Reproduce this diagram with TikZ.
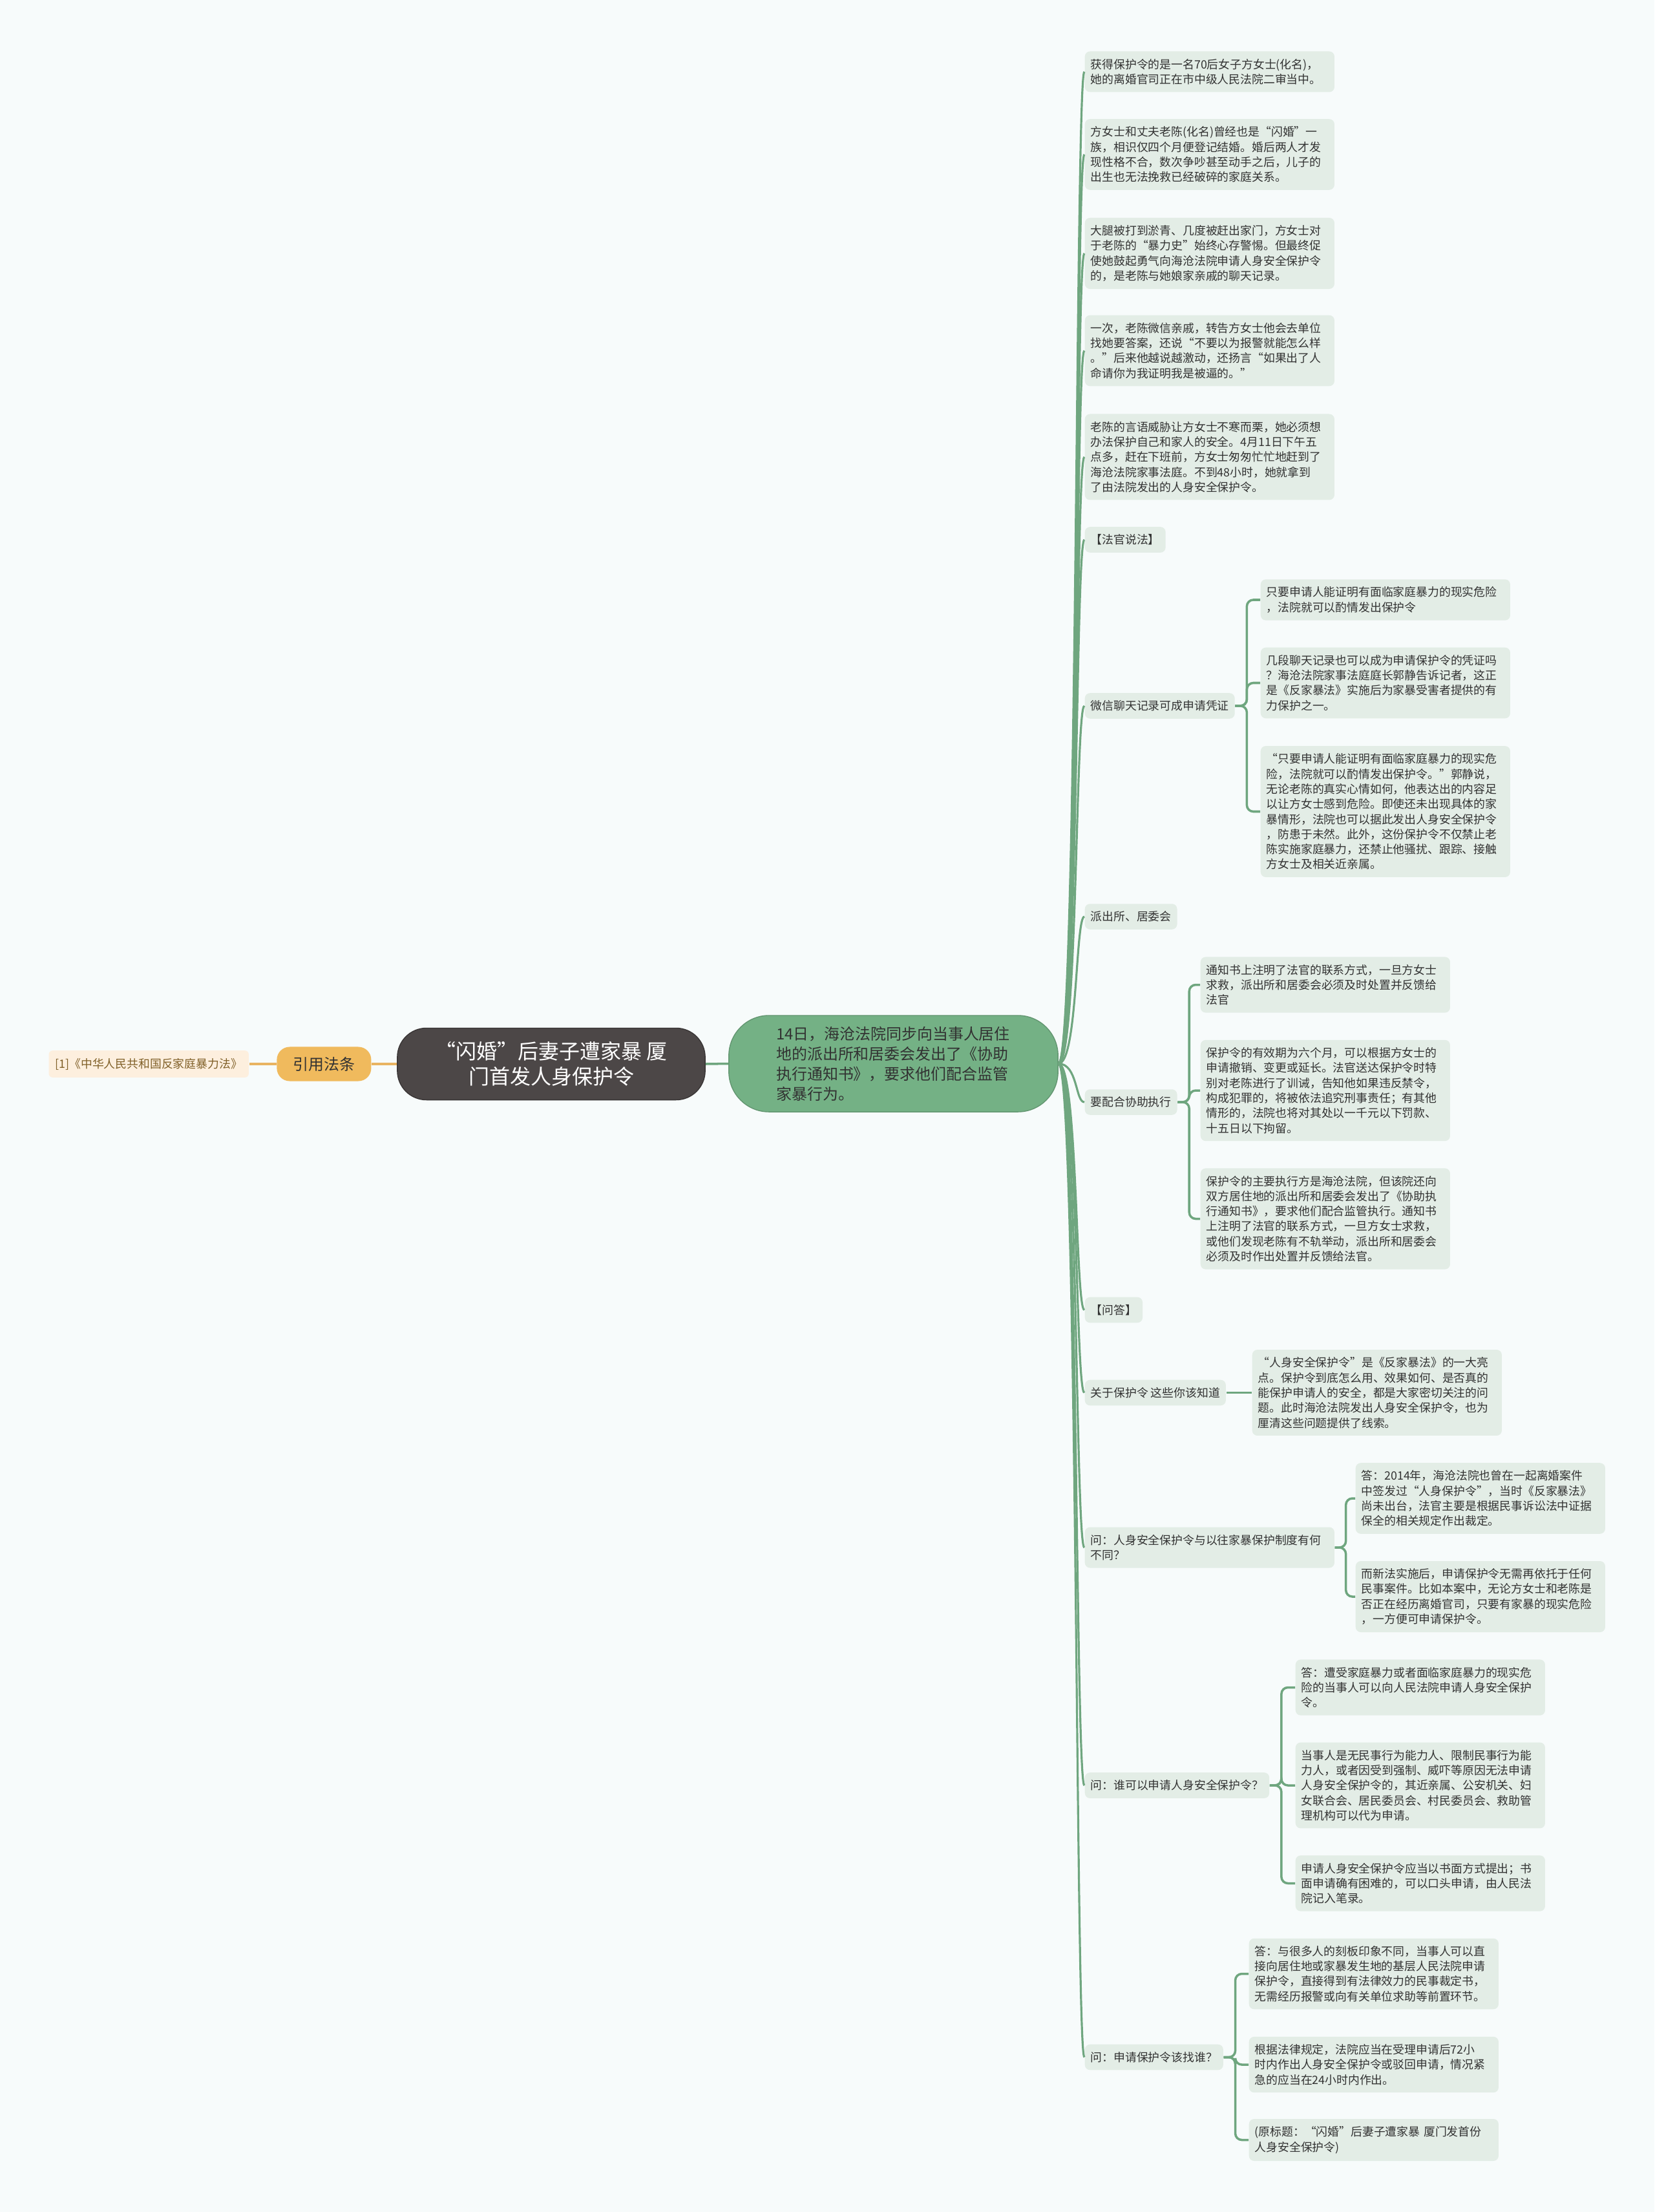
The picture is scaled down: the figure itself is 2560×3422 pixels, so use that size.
\documentclass[tikz,border=0pt]{standalone}
\usepackage{fontspec}
\usepackage{xcolor}
\usepackage{tikz}
\usetikzlibrary{positioning}
\newfontfamily\cjk{Noto Sans CJK SC}
\definecolor{paper}{RGB}{247,251,251}
\definecolor{leafbg}{RGB}{227,237,230}
\definecolor{ink}{RGB}{50,50,50}
\definecolor{branch}{RGB}{111,166,127}
\definecolor{hubfill}{RGB}{116,177,133}
\definecolor{rootfill}{RGB}{76,71,71}
\definecolor{citefill}{RGB}{240,186,93}
\definecolor{citeline}{RGB}{233,180,98}
\definecolor{reffill}{RGB}{253,239,222}
\definecolor{reftext}{RGB}{128,96,40}
\tikzset{
  note/.style={fill=leafbg,rounded corners=0.08cm,anchor=west,inner xsep=0.09cm,inner ysep=0.115cm,
               text=ink,align=left,font=\cjk\fontsize{5.07pt}{6.63pt}\selectfont},
  leaf/.style={note,text width=3.68cm},
  root/.style={fill=rootfill,draw=rootfill!75!black,rounded corners=0.45cm,minimum width=4.76cm,
               minimum height=1.11cm,text=white,align=center,font=\cjk\fontsize{9.1pt}{10.9pt}\selectfont},
  hub/.style={fill=hubfill,draw=hubfill!85!black,rounded corners=0.62cm,minimum width=5.09cm,
              minimum height=1.49cm,text width=3.62cm,align=left,text=ink,
              font=\cjk\fontsize{6.8pt}{8.8pt}\selectfont},
  cite/.style={fill=citefill,rounded corners=0.2cm,minimum width=1.46cm,minimum height=0.53cm,
               text=ink,font=\cjk\fontsize{6.8pt}{8.8pt}\selectfont},
  lawref/.style={fill=reffill,rounded corners=0.06cm,minimum height=0.39cm,inner xsep=0.1cm,
                 text=reftext,font=\cjk\fontsize{5.07pt}{6.63pt}\selectfont},
  link/.style={draw=branch,line width=1pt,rounded corners=0.1cm},
  trunk/.style={draw=branch,line width=0.9pt},
  citelink/.style={draw=citeline,line width=1pt}
}
\begin{document}
\begin{tikzpicture}[x=0.01cm,y=-0.01cm]
  \fill[paper] (0,0) rectangle (2560,3422);
  \useasboundingbox (0,0) rectangle (2560,3422);

  \node[root] (root) at (853,1646) {“闪婚”后妻子遭家暴 厦\\门首发人身保护令};
  \node[cite,left=0.39cm of root] (cite) {引用法条};
  \node[lawref,left=0.42cm of cite] (law) {[1]《中华人民共和国反家庭暴力法》};
  \node[hub] (hub) at (1382.5,1645.5)
    {14日，海沧法院同步向当事人居住\\地的派出所和居委会发出了《协助\\执行通知书》，要求他们配合监管\\家暴行为。};
  \draw[citelink] (root.west) -- (cite.east);
  \draw[citelink] (cite.west) -- (law.east);
  \draw[link] (root.east) -- (hub.west);

  \node[leaf] (t1) at (1678,111)
    {获得保护令的是一名70后女子方女士(化名)，\\她的离婚官司正在市中级人民法院二审当中。};
  \node[leaf] (t2) at (1678,239)
    {方女士和丈夫老陈(化名)曾经也是“闪婚”一\\族，相识仅四个月便登记结婚。婚后两人才发\\现性格不合，数次争吵甚至动手之后，儿子的\\出生也无法挽救已经破碎的家庭关系。};
  \node[leaf] (t3) at (1678,392)
    {大腿被打到淤青、几度被赶出家门，方女士对\\于老陈的“暴力史”始终心存警惕。但最终促\\使她鼓起勇气向海沧法院申请人身安全保护令\\的，是老陈与她娘家亲戚的聊天记录。};
  \node[leaf] (t4) at (1678,542.5)
    {一次，老陈微信亲戚，转告方女士他会去单位\\找她要答案，还说“不要以为报警就能怎么样\\。”后来他越说越激动，还扬言“如果出了人\\命请你为我证明我是被逼的。”};
  \node[leaf] (t5) at (1678,707)
    {老陈的言语威胁让方女士不寒而栗，她必须想\\办法保护自己和家人的安全。4月11日下午五\\点多，赶在下班前，方女士匆匆忙忙地赶到了\\海沧法院家事法庭。不到48小时，她就拿到\\了由法院发出的人身安全保护令。};
  \node[note] (t6) at (1678,835) {【法官说法】};
  \node[note] (t7) at (1678,1092) {微信聊天记录可成申请凭证};
  \node[leaf] (c1) at (1950,928)
    {只要申请人能证明有面临家庭暴力的现实危险\\，法院就可以酌情发出保护令};
  \node[leaf] (c2) at (1950,1056.5)
    {几段聊天记录也可以成为申请保护令的凭证吗\\？海沧法院家事法庭庭长郭静告诉记者，这正\\是《反家暴法》实施后为家暴受害者提供的有\\力保护之一。};
  \node[leaf] (c3) at (1950,1255.5)
    {“只要申请人能证明有面临家庭暴力的现实危\\险，法院就可以酌情发出保护令。”郭静说，\\无论老陈的真实心情如何，他表达出的内容足\\以让方女士感到危险。即使还未出现具体的家\\暴情形，法院也可以据此发出人身安全保护令\\，防患于未然。此外，这份保护令不仅禁止老\\陈实施家庭暴力，还禁止他骚扰、跟踪、接触\\方女士及相关近亲属。};
  \node[note] (t8) at (1678,1418) {派出所、居委会};
  \node[note] (t9) at (1678,1705) {要配合协助执行};
  \node[leaf] (d1) at (1857,1523.5)
    {通知书上注明了法官的联系方式，一旦方女士\\求救，派出所和居委会必须及时处置并反馈给\\法官};
  \node[leaf] (d2) at (1857,1687)
    {保护令的有效期为六个月，可以根据方女士的\\申请撤销、变更或延长。法官送达保护令时特\\别对老陈进行了训诫，告知他如果违反禁令，\\构成犯罪的，将被依法追究刑事责任；有其他\\情形的，法院也将对其处以一千元以下罚款、\\十五日以下拘留。};
  \node[leaf] (d3) at (1857,1885.5)
    {保护令的主要执行方是海沧法院，但该院还向\\双方居住地的派出所和居委会发出了《协助执\\行通知书》，要求他们配合监管执行。通知书\\上注明了法官的联系方式，一旦方女士求救，\\或他们发现老陈有不轨举动，派出所和居委会\\必须及时作出处置并反馈给法官。};
  \node[note] (t10) at (1678,2026.5) {【问答】};
  \node[note] (t11) at (1678,2154.5) {关于保护令 这些你该知道};
  \node[leaf] (e1) at (1937,2154.5)
    {“人身安全保护令”是《反家暴法》的一大亮\\点。保护令到底怎么用、效果如何、是否真的\\能保护申请人的安全，都是大家密切关注的问\\题。此时海沧法院发出人身安全保护令，也为\\厘清这些问题提供了线索。};
  \node[leaf] (t12) at (1678,2394)
    {问：人身安全保护令与以往家暴保护制度有何\\不同？};
  \node[leaf] (f1) at (2097,2318)
    {答：2014年，海沧法院也曾在一起离婚案件\\中签发过“人身保护令”，当时《反家暴法》\\尚未出台，法官主要是根据民事诉讼法中证据\\保全的相关规定作出裁定。};
  \node[leaf] (f2) at (2097,2470)
    {而新法实施后，申请保护令无需再依托于任何\\民事案件。比如本案中，无论方女士和老陈是\\否正在经历离婚官司，只要有家暴的现实危险\\，一方便可申请保护令。};
  \node[note] (t13) at (1678,2762) {问：谁可以申请人身安全保护令？};
  \node[leaf] (g1) at (2004,2610.5)
    {答：遭受家庭暴力或者面临家庭暴力的现实危\\险的当事人可以向人民法院申请人身安全保护\\令。};
  \node[leaf] (g2) at (2004,2762)
    {当事人是无民事行为能力人、限制民事行为能\\力人，或者因受到强制、威吓等原因无法申请\\人身安全保护令的，其近亲属、公安机关、妇\\女联合会、居民委员会、村民委员会、救助管\\理机构可以代为申请。};
  \node[leaf] (g3) at (2004,2913.5)
    {申请人身安全保护令应当以书面方式提出；书\\面申请确有困难的，可以口头申请，由人民法\\院记入笔录。};
  \node[note] (t14) at (1678,3182.5) {问：申请保护令该找谁？};
  \node[leaf] (h1) at (1932,3053.5)
    {答：与很多人的刻板印象不同，当事人可以直\\接向居住地或家暴发生地的基层人民法院申请\\保护令，直接得到有法律效力的民事裁定书，\\无需经历报警或向有关单位求助等前置环节。};
  \node[leaf] (h2) at (1932,3194)
    {根据法律规定，法院应当在受理申请后72小\\时内作出人身安全保护令或驳回申请，情况紧\\急的应当在24小时内作出。};
  \node[leaf] (h3) at (1932,3310.5)
    {(原标题：“闪婚”后妻子遭家暴 厦门发首份\\人身安全保护令)};

  \foreach \i in {1,...,14}
    \draw[trunk] (hub.east) .. controls +(30,0) and +(-14,0) .. (t\i.west);
  \foreach \c in {c1,c2,c3}
    \draw[link] (t7.east) -- ++(18,0) |- (\c.west);
  \foreach \c in {d1,d2,d3}
    \draw[link] (t9.east) -- ++(18,0) |- (\c.west);
  \draw[link] (t11.east) -- (e1.west);
  \foreach \c in {f1,f2}
    \draw[link] (t12.east) -- ++(17,0) |- (\c.west);
  \foreach \c in {g1,g2,g3}
    \draw[link] (t13.east) -- ++(18,0) |- (\c.west);
  \foreach \c in {h1,h2,h3}
    \draw[link] (t14.east) -- ++(18,0) |- (\c.west);
\end{tikzpicture}
\end{document}
